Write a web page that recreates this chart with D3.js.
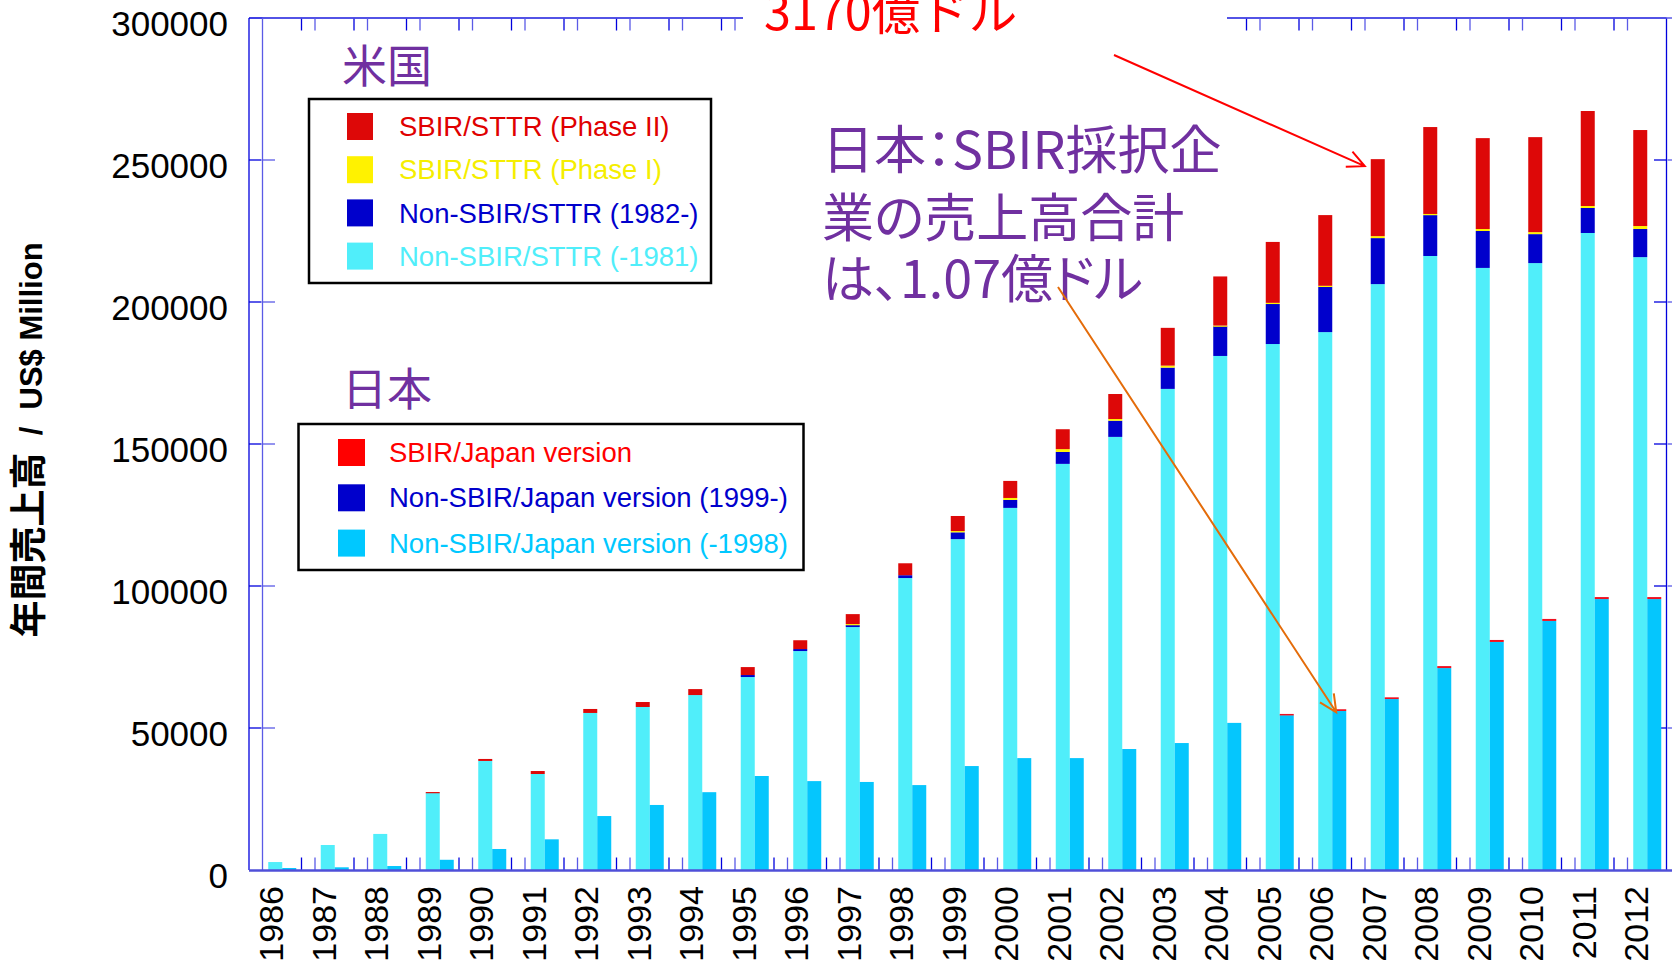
<!DOCTYPE html>
<html>
<head>
<meta charset="utf-8">
<script src="https://cdn.jsdelivr.net/npm/d3@7/dist/d3.min.js"></script>
<style>
  body { margin: 0; background: #fff; }
  svg { display: block; font-family: "Liberation Sans", Arial, sans-serif; }
  .note { font-feature-settings: "palt"; }
</style>
</head>
<body>
<svg id="chart" width="1672" height="965"></svg>
<script>
'use strict';

// Data (US$ Million).
const years = [1986, 1987, 1988, 1989, 1990, 1991, 1992, 1993, 1994, 1995, 1996, 1997, 1998, 1999,
               2000, 2001, 2002, 2003, 2004, 2005, 2006, 2007, 2008, 2009, 2010, 2011, 2012];

// US: SBIR/STTR adopted firms
const usNonSbirOld = [2800, 8800, 12700, 27100, 38400, 33800, 55300, 57400, 61600, 67950, 77100, 85550, 102800, 116500,
                      127500, 143000, 152500, 169400, 181000, 185200, 189400, 206300, 216200, 212000, 213700, 224300, 215800];
const usNonSbirNew = [0, 0, 0, 0, 0, 0, 0, 0, 0, 700, 700, 700, 1000, 2400,
                      2800, 4200, 5700, 7500, 10500, 14100, 16000, 16200, 14400, 13000, 10200, 8800, 9900];
const usPhase1 = [0, 0, 0, 0, 0, 0, 0, 0, 0, 0, 0, 350, 0, 450,
                  700, 1000, 600, 700, 200, 400, 300, 700, 400, 700, 700, 700, 1050];
const usPhase2 = [0, 0, 0, 350, 700, 1050, 1400, 1750, 2100, 2800, 3100, 3500, 4200, 5300,
                  6000, 7000, 8800, 13300, 17300, 21450, 24900, 27100, 30600, 32000, 33450, 33450, 33800];

// Japan: SBIR/Japan version adopted firms
const jpNonSbirOld = [700, 950, 1400, 3600, 7400, 10800, 19000, 22900, 27400, 33100, 31300, 31000, 29900, 36600,
                      39400, 39400, 42600, 44700, 51800, 54500, 56000, 60200, 71100, 80300, 87700, 95400, 95400];
const jpNonSbirNew = [0, 0, 0, 0, 0, 0, 0, 0, 0, 0, 0, 0, 0, 0,
                      0, 0, 0, 0, 0, 0, 0, 0, 0, 0, 0, 0, 0];
const jpSbir = [0, 0, 0, 0, 0, 0, 0, 0, 0, 0, 0, 0, 0, 0,
                0, 0, 0, 0, 0, 450, 600, 600, 700, 700, 700, 700, 700];

const yTicks = [0, 50000, 100000, 150000, 200000, 250000, 300000];

const usKeys = ['old', 'new', 'p1', 'p2'];
const usColors = { old: '#50eefa', new: '#0000cc', p1: '#fff200', p2: '#dd0808' };
const usLegend = [
  { key: 'p2', label: 'SBIR/STTR (Phase II)', text: '#e00000' },
  { key: 'p1', label: 'SBIR/STTR (Phase I)', text: '#f5ee00' },
  { key: 'new', label: 'Non-SBIR/STTR (1982-)', text: '#0000cc' },
  { key: 'old', label: 'Non-SBIR/STTR (-1981)', text: '#50eefa' }
];

const jpKeys = ['old', 'new', 'sbir'];
const jpColors = { old: '#05c6fd', new: '#0000cc', sbir: '#ee1020' };
const jpLegend = [
  { label: 'SBIR/Japan version', fill: '#ff0000', text: '#ff0000' },
  { label: 'Non-SBIR/Japan version (1999-)', fill: '#0000cc', text: '#0000cc' },
  { label: 'Non-SBIR/Japan version (-1998)', fill: '#00c8ff', text: '#00c8ff' }
];

const usRows = years.map((y, i) => ({ year: y, old: usNonSbirOld[i], new: usNonSbirNew[i], p1: usPhase1[i], p2: usPhase2[i] }));
const jpRows = years.map((y, i) => ({ year: y, old: jpNonSbirOld[i], new: jpNonSbirNew[i], sbir: jpSbir[i] }));

// Layout
const plot = { left: 249, right: 1666.5, top: 18, bottom: 870 };
const jpShift = 13.5;   // the Japan chart sits on a copy of the frame shifted right
const barW = 14;
const tickLen = 12.5;

const svg = d3.select('#chart');
svg.append('rect').attr('width', 1672).attr('height', 965).attr('fill', '#fff');

const x = d3.scaleBand().domain(years).range([plot.left, plot.right]).padding(0);
const y = d3.scaleLinear().domain([0, 300000]).range([plot.bottom, plot.top]);

// Frames (US + shifted Japan copy)
function drawFrame(dx, color) {
  const g = svg.append('g').attr('transform', `translate(${dx},0)`)
    .attr('stroke', color).attr('stroke-width', 1.3).attr('fill', 'none');
  g.append('line').attr('x1', plot.left).attr('x2', plot.left).attr('y1', plot.top).attr('y2', plot.bottom);
  g.append('line').attr('x1', plot.right).attr('x2', plot.right).attr('y1', plot.top).attr('y2', plot.bottom);
  g.append('line').attr('x1', plot.left).attr('x2', plot.right).attr('y1', plot.top).attr('y2', plot.top);
  // y ticks, inward on both sides
  g.selectAll('.yl').data(yTicks.slice(1, -1)).join('line')
    .attr('x1', plot.left).attr('x2', plot.left + tickLen).attr('y1', d => y(d)).attr('y2', d => y(d));
  g.selectAll('.yr').data(yTicks.slice(1, -1)).join('line')
    .attr('x1', plot.right - tickLen).attr('x2', plot.right).attr('y1', d => y(d)).attr('y2', d => y(d));
  // x ticks between categories, top and bottom
  const bounds = years.slice(1).map(d => x(d));
  g.selectAll('.xb').data(bounds).join('line')
    .attr('x1', d => d).attr('x2', d => d).attr('y1', plot.bottom).attr('y2', plot.bottom - tickLen);
  g.selectAll('.xt').data(bounds).join('line')
    .attr('x1', d => d).attr('x2', d => d).attr('y1', plot.top).attr('y2', plot.top + tickLen);
}
drawFrame(0, '#0000dd');
drawFrame(jpShift, '#5a5ae6');

// US stacked bars
const usStack = d3.stack().keys(usKeys)(usRows);
svg.append('g').selectAll('g').data(usStack).join('g')
  .attr('fill', d => usColors[d.key])
  .selectAll('rect').data(d => d.filter(s => s[1] - s[0] > 0)).join('rect')
  .attr('x', d => x(d.data.year) + x.bandwidth() / 2 - barW / 2)
  .attr('width', barW)
  .attr('y', d => y(d[1]))
  .attr('height', d => Math.max(y(d[0]) - y(d[1]), 1.2));

// Japan stacked bars
const jpStack = d3.stack().keys(jpKeys)(jpRows);
svg.append('g').selectAll('g').data(jpStack).join('g')
  .attr('fill', d => jpColors[d.key])
  .selectAll('rect').data(d => d.filter(s => s[1] - s[0] > 0)).join('rect')
  .attr('x', d => x(d.data.year) + x.bandwidth() / 2 - barW / 2 + barW)
  .attr('width', barW)
  .attr('y', d => y(d[1]))
  .attr('height', d => Math.max(y(d[0]) - y(d[1]), 1.5));

// baseline
svg.append('line').attr('x1', plot.left).attr('x2', plot.right + jpShift)
  .attr('y1', plot.bottom + 0.5).attr('y2', plot.bottom + 0.5)
  .attr('stroke', '#4f4fd8').attr('stroke-width', 2.5);

// y tick labels
svg.append('g').selectAll('text').data(yTicks).join('text')
  .attr('x', 228).attr('y', d => y(d) + 6).attr('dy', '0.35em')
  .attr('text-anchor', 'end').attr('font-size', 35).attr('fill', '#000')
  .text(d => d);

// x labels (rotated)
svg.append('g').selectAll('text').data(years).join('text')
  .attr('transform', d => `translate(${x(d) + x.bandwidth() / 2 - 4},886) rotate(-90)`)
  .attr('dy', '0.35em').attr('text-anchor', 'end').attr('font-size', 34).attr('fill', '#000')
  .text(d => d);

// y axis title
const yt = svg.append('text')
  .attr('transform', 'translate(36,440) rotate(-90)')
  .attr('text-anchor', 'middle').attr('dy', '0.35em')
  .attr('font-weight', 'bold').attr('fill', '#000');
yt.append('tspan').attr('font-family', '"Noto Sans CJK JP", sans-serif').attr('font-size', 37).text('年間売上高');
yt.append('tspan').attr('font-size', 31).attr('xml:space', 'preserve').text('  /  US$ Million');

// Legends
const purple = '#7030a0';
svg.append('text').attr('x', 342).attr('y', 67).attr('dy', '0.35em')
  .attr('font-family', '"Noto Sans CJK JP", sans-serif').attr('font-size', 45).attr('fill', purple).text('米国');
svg.append('text').attr('x', 342).attr('y', 390).attr('dy', '0.35em')
  .attr('font-family', '"Noto Sans CJK JP", sans-serif').attr('font-size', 45).attr('fill', purple).text('日本');

const lg1 = svg.append('g');
lg1.append('rect').attr('x', 309).attr('y', 99).attr('width', 402).attr('height', 184)
  .attr('fill', '#fff').attr('stroke', '#000').attr('stroke-width', 2.5);
lg1.selectAll('g').data(usLegend).join('g')
  .attr('transform', (d, i) => `translate(0,${126.5 + i * 43.2})`)
  .each(function (d) {
    const g = d3.select(this);
    g.append('rect').attr('x', 347).attr('y', -13.5).attr('width', 26).attr('height', 27).attr('fill', usColors[d.key]);
    g.append('text').attr('x', 399).attr('dy', '0.35em').attr('font-size', 27.5).attr('fill', d.text).text(d.label);
  });

const lg2 = svg.append('g');
lg2.append('rect').attr('x', 298.5).attr('y', 424).attr('width', 505).attr('height', 146)
  .attr('fill', '#fff').attr('stroke', '#000').attr('stroke-width', 2.5);
lg2.selectAll('g').data(jpLegend).join('g')
  .attr('transform', (d, i) => `translate(0,${452.5 + i * 45.3})`)
  .each(function (d) {
    const g = d3.select(this);
    g.append('rect').attr('x', 338).attr('y', -13.5).attr('width', 27).attr('height', 27).attr('fill', d.fill);
    g.append('text').attr('x', 389).attr('dy', '0.35em').attr('font-size', 27.5).attr('fill', d.text).text(d.label);
  });

// Annotations
svg.append('rect').attr('x', 743).attr('y', 0).attr('width', 484).attr('height', 40).attr('fill', '#fff');
svg.append('text').attr('x', 764).attr('y', 30)
  .attr('font-family', '"Noto Sans CJK JP", sans-serif').attr('font-size', 48.5).attr('fill', '#ff0000')
  .text('3170億ドル');

const note = svg.append('text').attr('class', 'note').attr('font-family', '"Noto Sans CJK JP", sans-serif')
  .attr('font-size', 52).attr('fill', purple);
['日本：SBIR採択企', '業の売上高合計', 'は、1.07億ドル'].forEach((t, i) => {
  note.append('tspan').attr('x', 822).attr('y', [151, 219, 280][i]).attr('dy', '0.35em').text(t);
});

function arrow(x1, y1, x2, y2, color) {
  const ang = Math.atan2(y2 - y1, x2 - x1);
  const len = 19, spread = 0.45;
  const p = d3.path();
  p.moveTo(x1, y1); p.lineTo(x2, y2);
  p.moveTo(x2 - len * Math.cos(ang - spread), y2 - len * Math.sin(ang - spread));
  p.lineTo(x2, y2);
  p.lineTo(x2 - len * Math.cos(ang + spread), y2 - len * Math.sin(ang + spread));
  svg.append('path').attr('d', p.toString()).attr('fill', 'none')
    .attr('stroke', color).attr('stroke-width', 2);
}
// red arrow points at the 2007 US total, orange at the 2006 Japan bar
const i07 = years.indexOf(2007), i06 = years.indexOf(2006);
const us07 = usNonSbirOld[i07] + usNonSbirNew[i07] + usPhase1[i07] + usPhase2[i07];
arrow(1114, 55, x(2007) + x.bandwidth() / 2 - barW / 2 - 6, y(us07) + 7, '#ff0000');
const jp06 = jpNonSbirOld[i06] + jpNonSbirNew[i06] + jpSbir[i06];
arrow(1058, 287, x(2006) + x.bandwidth() / 2 + barW / 2 + 4, y(jp06) + 3, '#e46c0a');
</script>
</body>
</html>
